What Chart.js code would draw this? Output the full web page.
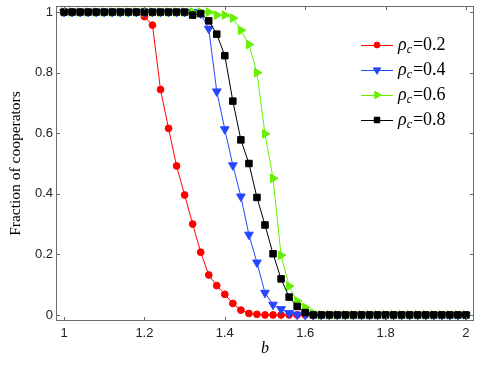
<!DOCTYPE html>
<html>
<head>
<meta charset="utf-8">
<script src="https://cdn.jsdelivr.net/npm/chart.js@4.4.1/dist/chart.umd.min.js"></script>
<style>
  html, body { margin: 0; padding: 0; background: #fff; }
  canvas { display: block; }
</style>
</head>
<body>
<canvas id="chart" width="491" height="369"></canvas>
<script>
// b values (x axis)
const bValues = [1.00, 1.02, 1.04, 1.06, 1.08, 1.10, 1.12, 1.14, 1.16, 1.18,
  1.20, 1.22, 1.24, 1.26, 1.28, 1.30, 1.32, 1.34, 1.36, 1.38,
  1.40, 1.42, 1.44, 1.46, 1.48, 1.50, 1.52, 1.54, 1.56, 1.58,
  1.60, 1.62, 1.64, 1.66, 1.68, 1.70, 1.72, 1.74, 1.76, 1.78,
  1.80, 1.82, 1.84, 1.86, 1.88, 1.90, 1.92, 1.94, 1.96, 1.98, 2.00];

const rho02 = [1, 1, 1, 1, 1, 1, 1, 1, 1, 1,
  0.985, 0.957, 0.744, 0.616, 0.492, 0.396, 0.300, 0.207, 0.132, 0.097,
  0.068, 0.038, 0.016, 0.005, 0.002, 0, 0, 0, 0, 0,
  0, 0, 0, 0, 0, 0, 0, 0, 0, 0,
  0, 0, 0, 0, 0, 0, 0, 0, 0, 0, 0];

const rho04 = [1, 1, 1, 1, 1, 1, 1, 1, 1, 1,
  1, 1, 1, 1, 1, 1, 1, 0.995, 0.945, 0.738,
  0.613, 0.494, 0.391, 0.265, 0.173, 0.073, 0.034, 0.019, 0.006, 0.001,
  0, 0, 0, 0, 0, 0, 0, 0, 0, 0,
  0, 0, 0, 0, 0, 0, 0, 0, 0, 0, 0];

const rho06 = [1, 1, 1, 1, 1, 1, 1, 1, 1, 1,
  1, 1, 1, 1, 1, 1, 1, 1, 1, 0.99,
  0.99, 0.98, 0.94, 0.893, 0.80, 0.598, 0.451, 0.197, 0.095, 0.046,
  0.025, 0.006, 0, 0, 0, 0, 0, 0, 0, 0,
  0, 0, 0, 0, 0, 0, 0, 0, 0, 0, 0];

const rho08 = [1, 1, 1, 1, 1, 1, 1, 1, 1, 1,
  1, 1, 1, 1, 1, 1.0, 0.99, 0.995, 0.971, 0.927,
  0.856, 0.706, 0.578, 0.50, 0.388, 0.297, 0.202, 0.119, 0.059, 0.028,
  0.008, 0, 0, 0, 0, 0, 0, 0, 0, 0,
  0, 0, 0, 0, 0, 0, 0, 0, 0, 0, 0];

const xTicks = [1, 1.2, 1.4, 1.6, 1.8, 2];
const xTickLabels = ['1', '1.2', '1.4', '1.6', '1.8', '2'];
const yTicks = [0, 0.2, 0.4, 0.6, 0.8, 1];
const yTickLabels = ['0', '0.2', '0.4', '0.6', '0.8', '1'];
const legendLabels = ['0.2', '0.4', '0.6', '0.8'];

const series = [
  { values: rho02, color: '#ff0000', style: 'circle', rot: 0, r: 3.4, order: 4 },
  { values: rho04, color: '#2546ff', style: 'triangle', rot: 180, r: 5, order: 3 },
  { values: rho06, color: '#66f000', style: 'triangle', rot: 90, r: 5, order: 2 },
  { values: rho08, color: '#000000', style: 'rect', rot: 0, r: 4.6, order: 1 },
];

const FRAME = '#6a6a6a';

const framePlugin = {
  id: 'frame',
  afterDatasetsDraw(chart) {
    const { ctx, chartArea: a, scales } = chart;
    ctx.save();
    ctx.strokeStyle = FRAME;
    ctx.lineWidth = 1;
    ctx.strokeRect(Math.round(a.left) + 0.5, Math.round(a.top) + 0.5,
      Math.round(a.right - a.left) - 1, Math.round(a.bottom - a.top) - 1);
    ctx.beginPath();
    const tl = 4;
    xTicks.forEach(v => {
      const x = Math.round(scales.x.getPixelForValue(v)) + 0.5;
      ctx.moveTo(x, a.bottom); ctx.lineTo(x, a.bottom - tl);
      ctx.moveTo(x, a.top); ctx.lineTo(x, a.top + tl);
    });
    yTicks.forEach(v => {
      const y = Math.round(scales.y.getPixelForValue(v)) + 0.5;
      ctx.moveTo(a.left, y); ctx.lineTo(a.left + tl, y);
      ctx.moveTo(a.right, y); ctx.lineTo(a.right - tl, y);
    });
    ctx.stroke();
    ctx.restore();
  }
};

const legendPlugin = {
  id: 'rhoLegend',
  afterDraw(chart) {
    const { ctx } = chart;
    ctx.save();
    ctx.fillStyle = '#fff';
    ctx.fillRect(355, 32, 112, 102);
    series.forEach((s, i) => {
      const y = 45 + i * 25;
      ctx.strokeStyle = s.color;
      ctx.lineWidth = 1;
      ctx.beginPath();
      ctx.moveTo(361, y + 0.5);
      ctx.lineTo(393, y + 0.5);
      ctx.stroke();
      ctx.fillStyle = s.color;
      Chart.helpers.drawPoint(ctx, { pointStyle: s.style, rotation: s.rot, radius: s.r * 0.85, borderWidth: 1 }, 377, y);
      ctx.fill();
      ctx.fillStyle = '#000';
      ctx.textBaseline = 'alphabetic';
      ctx.textAlign = 'left';
      let x = 398;
      ctx.font = 'italic 18px "Liberation Serif", serif';
      ctx.fillText('\u03C1', x, y + 5);
      x += ctx.measureText('\u03C1').width;
      ctx.font = 'italic 12px "Liberation Serif", serif';
      ctx.fillText('c', x, y + 8);
      x += ctx.measureText('c').width + 1;
      ctx.font = '18px "Liberation Serif", serif';
      ctx.fillText('=' + legendLabels[i], x, y + 5);
    });
    ctx.restore();
  }
};

new Chart(document.getElementById('chart'), {
  type: 'line',
  plugins: [framePlugin, legendPlugin],
  data: {
    datasets: series.map(s => ({
      data: bValues.map((b, i) => ({ x: b, y: s.values[i] })),
      borderColor: s.color,
      backgroundColor: s.color,
      pointBackgroundColor: s.color,
      pointBorderColor: s.color,
      borderWidth: 1,
      pointStyle: s.style,
      pointRotation: s.rot,
      pointRadius: s.r,
      pointBorderWidth: 1,
      tension: 0,
      order: s.order,
      clip: false,
    }))
  },
  options: {
    responsive: false,
    animation: false,
    events: [],
    layout: { padding: { left: 0, right: 17, top: 4, bottom: 0 } },
    plugins: { legend: { display: false }, tooltip: { enabled: false } },
    scales: {
      x: {
        type: 'linear',
        min: 0.98, max: 2.02,
        afterBuildTicks(scale) { scale.ticks = xTicks.map(v => ({ value: v })); },
        afterFit(scale) { scale.height = 48; scale.paddingLeft = 0; scale.paddingRight = 0; },
        grid: { display: false, drawTicks: false },
        border: { display: false },
        ticks: {
          color: '#222',
          padding: 5,
          font: { family: '"Liberation Sans", Arial, sans-serif', size: 13 },
          callback: (v) => xTickLabels[xTicks.indexOf(Math.round(v * 10) / 10)] ?? '',
        },
        title: {
          display: true,
          text: 'b',
          color: '#000',
          padding: { top: 0, bottom: 11 },
          font: { family: '"Liberation Serif", serif', size: 16, style: 'italic' },
        },
      },
      y: {
        type: 'linear',
        min: -0.02, max: 1.02,
        afterBuildTicks(scale) { scale.ticks = yTicks.map(v => ({ value: v })); },
        afterFit(scale) { scale.width = 56; scale.paddingTop = 0; scale.paddingBottom = 0; },
        grid: { display: false, drawTicks: false },
        border: { display: false },
        ticks: {
          color: '#222',
          padding: 3,
          font: { family: '"Liberation Sans", Arial, sans-serif', size: 13 },
          callback: (v) => yTickLabels[yTicks.indexOf(Math.round(v * 10) / 10)] ?? '',
        },
        title: {
          display: true,
          text: 'Fraction of cooperators',
          color: '#000',
          padding: { top: 7, bottom: 0 },
          font: { family: '"Liberation Serif", serif', size: 15.5 },
        },
      },
    },
  },
});
</script>
</body>
</html>
